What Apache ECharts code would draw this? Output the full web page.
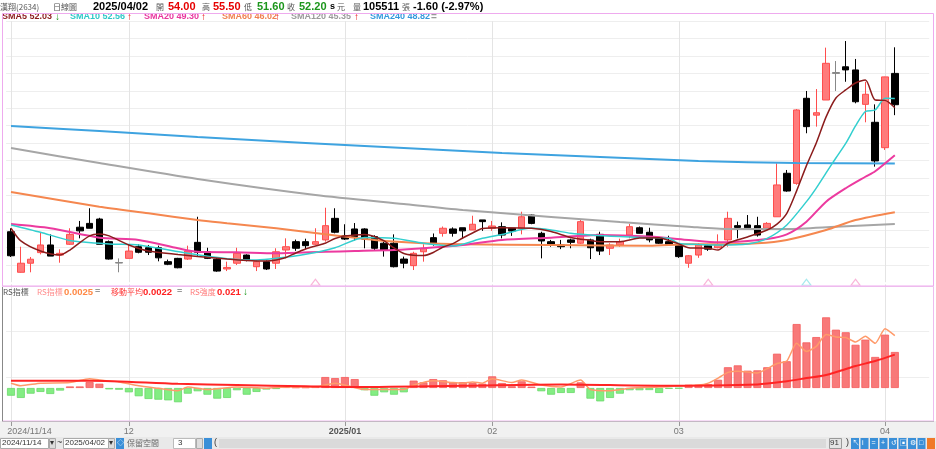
<!DOCTYPE html>
<html><head><meta charset="utf-8">
<script src="https://cdn.jsdelivr.net/npm/echarts@6/dist/echarts.min.js"></script>
<style>html,body{margin:0;padding:0;background:#fff;}#c{width:936px;height:449px;}</style>
</head><body><div id="c"></div>
<script>
// ---------- data ----------
const dates = [
 '2024/11/14','2024/11/15','2024/11/18','2024/11/19','2024/11/20','2024/11/21','2024/11/22','2024/11/25','2024/11/26','2024/11/27','2024/11/28','2024/11/29',
 '2024/12/02','2024/12/03','2024/12/04','2024/12/05','2024/12/06','2024/12/09','2024/12/10','2024/12/11','2024/12/12','2024/12/13','2024/12/16','2024/12/17','2024/12/18','2024/12/19','2024/12/20','2024/12/23','2024/12/24','2024/12/25','2024/12/26','2024/12/27','2024/12/30','2024/12/31',
 '2025/01/02','2025/01/03','2025/01/06','2025/01/07','2025/01/08','2025/01/09','2025/01/10','2025/01/13','2025/01/14','2025/01/15','2025/01/16','2025/01/17','2025/01/20','2025/01/21','2025/01/22',
 '2025/02/03','2025/02/04','2025/02/05','2025/02/06','2025/02/07','2025/02/10','2025/02/11','2025/02/12','2025/02/13','2025/02/14','2025/02/17','2025/02/18','2025/02/19','2025/02/20','2025/02/21','2025/02/24','2025/02/25','2025/02/26','2025/02/27',
 '2025/03/03','2025/03/04','2025/03/05','2025/03/06','2025/03/07','2025/03/10','2025/03/11','2025/03/12','2025/03/13','2025/03/14','2025/03/17','2025/03/18','2025/03/19','2025/03/20','2025/03/21','2025/03/24','2025/03/25','2025/03/26','2025/03/27','2025/03/28','2025/03/31',
 '2025/04/01','2025/04/02'];
const padCats = [' ', '  ', '   '];
const tickIdx = [0, 12, 34, 49, 68, 89];
const tickText = ['2024/11/14', '12', '2025/01', '02', '03', '04'];

// [open, close, low, high]
const candles = [
 [44.90,43.52,43.45,45.10],[42.57,43.09,42.55,44.04],[43.09,43.32,42.57,43.45],[43.70,44.14,43.60,44.87],[44.14,43.50,43.50,44.75],
 [43.56,43.66,43.12,43.89],[44.18,44.75,44.14,45.10],[45.16,44.95,44.52,45.52],[45.38,45.10,45.10,46.25],[45.63,44.18,44.18,45.70],
 [44.33,43.33,43.30,44.40],[43.13,43.10,42.57,43.37],[43.37,43.79,43.37,44.14],[44.04,43.72,43.66,44.18],[43.98,43.72,43.56,44.14],
 [43.98,43.40,43.20,44.10],[43.18,43.03,42.98,43.30],[43.37,42.83,42.80,43.40],[43.33,43.79,43.28,44.10],[44.29,43.72,43.47,45.76],
 [43.75,43.37,43.33,43.98],[43.32,42.64,42.60,43.40],[42.76,42.85,42.64,43.18],[43.09,43.66,42.99,43.98],[43.56,43.27,43.20,43.60],
 [42.89,43.18,42.64,43.28],[43.18,42.76,42.70,43.25],[43.09,43.75,42.76,43.95],[43.85,44.04,43.37,44.52],[44.33,43.95,43.80,44.45],
 [44.33,44.10,43.90,44.50],[44.18,44.33,44.14,45.10],[44.43,45.25,44.33,46.28],[45.67,44.87,44.81,46.25],[44.67,44.48,44.43,45.33],
 [45.06,44.62,44.40,45.40],[45.06,44.48,43.95,45.10],[44.62,43.95,43.80,44.70],[44.24,43.85,43.47,44.33],[44.24,42.89,42.85,44.75],
 [43.33,43.09,42.80,43.47],[42.95,43.66,42.70,43.75],[43.75,43.95,43.18,44.18],[44.56,44.24,44.10,44.80],[44.81,45.10,44.62,45.20],
 [45.06,44.81,44.62,45.15],[45.13,44.95,44.52,45.13],[45.00,45.33,45.00,45.82],[45.58,45.48,44.95,45.58],[45.10,45.23,44.95,45.52],
 [45.19,44.71,44.52,45.44],[45.10,44.94,44.66,45.10],[45.10,45.76,44.75,46.05],[45.86,45.38,45.33,45.90],[44.81,44.37,43.37,44.90],
 [44.33,44.18,44.04,44.43],[44.14,44.04,43.90,44.43],[44.43,44.29,43.95,44.50],[44.24,45.48,44.20,45.60],[44.43,43.98,43.33,44.50],
 [44.75,43.79,43.56,44.90],[43.95,44.14,43.56,44.24],[44.14,44.33,44.04,44.50],[44.71,45.19,44.52,45.35],[45.13,44.81,44.80,45.20],
 [44.87,44.43,44.29,45.13],[44.52,44.24,44.20,44.60],[44.33,44.18,44.18,44.67],[44.10,43.47,43.40,44.20],[43.09,43.52,42.83,43.56],
 [43.56,44.14,43.40,44.24],[44.10,43.90,43.80,44.20],[43.98,44.14,43.95,44.75],[44.43,45.67,44.04,46.05],[45.25,45.15,44.52,45.48],
 [45.29,45.13,45.10,45.86],[45.25,44.71,44.62,45.76],[45.10,45.38,44.98,45.45],[45.76,47.59,45.76,48.83],[48.26,47.24,47.20,48.45],
 [47.68,51.90,47.60,51.95],[52.57,50.94,50.56,52.99],[51.60,51.74,50.94,53.10],[52.47,54.58,52.47,55.48],[54.05,54.00,52.99,54.71],
 [54.38,54.20,53.52,55.86],[54.20,52.37,52.28,54.83],[52.22,52.80,51.19,53.52],[51.19,48.97,48.64,52.22],[49.73,53.80,49.60,53.81],
 [54.00,52.20,51.60,55.50]];
const volume = 105511;

// moving averages: [day index, value]
const sma5 = [[0,45.10],[1,44.37],[3,43.79],[5,43.56],[6,43.85],[8,44.66],[9,44.77],[10,44.66],[12,44.14],[14,43.79],[17,43.59],[19,43.48],[22,43.33],[24,43.25],[26,43.22],[27,43.28],[28,43.42],[29,43.68],[30,43.91],[31,44.08],[32,44.24],[33,44.51],[34,44.66],[35,44.71],[36,44.74],[37,44.63],[38,44.37],[39,43.97],[40,43.65],[41,43.55],[42,43.53],[43,43.71],[44,44.02],[45,44.22],[46,44.54],[47,44.83],[48,45.09],[50,45.13],[53,45.10],[55,44.91],[57,44.57],[59,44.40],[60,44.33],[62,44.33],[64,44.54],[66,44.56],[67,44.40],[68,44.20],[69,43.98],[71,43.95],[72,43.85],[73,44.24],[75,44.60],[77,45.00],[78,45.34],[79,45.96],[80,47.25],[81,48.70],[82,50.00],[83,51.50],[84,52.59],[85,53.05],[86,53.45],[87,53.62],[88,52.47],[89,52.45],[90,52.03]];
const sma10 = [[0,45.29],[3,44.87],[6,44.40],[10,44.20],[13,44.14],[18,43.66],[22,43.35],[25,43.28],[27,43.37],[30,43.60],[33,43.98],[36,44.57],[39,44.52],[42,44.24],[45,44.08],[48,44.52],[50,44.74],[53,45.11],[55,45.00],[57,44.81],[59,44.71],[62,44.62],[65,44.56],[67,44.52],[68,44.22],[70,44.17],[72,44.14],[75,44.20],[77,44.52],[79,45.29],[81,46.63],[82,47.41],[83,48.28],[84,49.14],[85,49.98],[86,50.98],[87,51.81],[88,51.90],[89,52.57],[90,52.56]];
const sma20 = [[0,45.34],[4,45.10],[9,44.56],[13,44.43],[17,43.95],[19,43.75],[23,43.72],[27,43.66],[32,43.75],[35,43.79],[39,43.85],[42,43.95],[46,44.14],[50,44.43],[55,44.56],[60,44.71],[65,44.62],[69,44.43],[72,44.29],[74,44.33],[77,44.48],[79,44.75],[81,45.48],[83,46.63],[85,47.40],[87,48.06],[88,48.38],[90,49.30]];
const sma60 = [[0,47.18],[9,46.34],[14,45.96],[19,45.57],[22,45.39],[27,45.10],[32,44.75],[37,44.43],[42,44.24],[46,44.18],[55,44.14],[65,44.10],[69,44.18],[72,44.18],[76,44.24],[79,44.43],[83,45.00],[86,45.57],[90,46.02]];
const sma120 = [[0,49.71],[9,48.85],[19,47.93],[31,47.01],[40,46.49],[46,46.15],[55,45.75],[62,45.46],[69,45.19],[73,45.06],[79,45.06],[84,45.19],[90,45.35]];
const sma240 = [[0,50.98],[9,50.69],[19,50.34],[30,50.00],[40,49.71],[50,49.43],[60,49.20],[70,48.97],[80,48.85],[90,48.82]];

// signal markers (day indices)
const signalPink = [31, 71, 86];
const signalCyan = [81];

// RS panel
const rsStrength = [
 -0.0045,-0.0058,-0.0033,-0.0023,-0.0035,-0.0015,0.0009,0.0009,0.0035,0.0025,
 -0.0008,-0.0010,-0.0025,-0.0048,-0.0064,-0.0068,-0.0072,-0.0083,-0.0033,-0.0019,
 -0.0039,-0.0062,-0.0058,-0.0013,-0.0039,-0.0023,-0.0009,-0.0006,0.0006,0.0004,
 0.0004,0.0012,0.0064,0.0058,0.0064,0.0052,-0.0013,-0.0045,-0.0025,-0.0039,
 -0.0025,0.0043,0.0033,0.0052,0.0045,0.0033,0.0034,0.0029,0.0025,0.0068,
 0.0029,0.0010,0.0039,0.0008,-0.0019,-0.0039,-0.0029,-0.0029,0.0033,-0.0062,
 -0.0078,-0.0058,-0.0033,-0.0013,-0.0013,-0.0012,-0.0029,-0.0004,-0.0003,0.0019,
 0.0019,0.0023,0.0048,0.0121,0.0132,0.0101,0.0103,0.0121,0.0200,0.0156,
 0.0373,0.0266,0.0297,0.0412,0.0340,0.0325,0.0252,0.0282,0.0181,0.0311,
 0.0210];
const rsIndex = [[0,0.00175],[1,0.00171],[3,0.00175],[6,0.00176],[8,0.00182],[9,0.00180],[11,0.00177],[13,0.00171],[15,0.00167],[17,0.00163],[18,0.00169],[20,0.00165],[23,0.00169],[26,0.00167],[28,0.00169],[31,0.00169],[33,0.00175],[36,0.00165],[40,0.00165],[41,0.00172],[43,0.00179],[45,0.00176],[46,0.00175],[47,0.00177],[48,0.00175],[49,0.00182],[51,0.00176],[52,0.00180],[54,0.00172],[56,0.00169],[58,0.00180],[59,0.00165],[61,0.00163],[63,0.00167],[66,0.00169],[70,0.00172],[71,0.00175],[72,0.00183],[73,0.00192],[74,0.00194],[76,0.00191],[77,0.00198],[78,0.00206],[79,0.00210],[80,0.00238],[81,0.00225],[82,0.00233],[83,0.00252],[84,0.00248],[85,0.00247],[86,0.00240],[87,0.00249],[88,0.00238],[89,0.00261],[90,0.00250]];
const rsMA = [[0,0.00179],[8,0.00179],[17,0.00174],[23,0.00172],[30,0.00170],[34,0.00169],[46,0.00171],[56,0.00173],[66,0.00171],[76,0.00173],[79,0.00178],[81,0.00183],[83,0.00188],[86,0.00202],[88,0.00210],[90,0.00220]];

// ---------- chart ----------
const cats = dates.concat(padCats);
const last = candles[candles.length - 1];
const prevClose = candles[candles.length - 2][1];
const chg = last[1] - prevClose;
const lastV = a => a[a.length - 1][1];

const LAT = "'Liberation Sans','Noto Sans CJK TC',sans-serif";
const CJK = "'Noto Sans CJK TC','Liberation Sans',sans-serif";
const RED = '#e60000', GREEN = '#1c961c';

function txt(x, y, s, fill, font, z) {
  return {type: 'text', x: x, y: y, silent: true, z: z || 50,
          style: {text: s, fill: fill, font: font, textVerticalAlign: 'middle'}};
}
function box(x, y, w, h, fill, stroke, z) {
  return {type: 'rect', silent: true, z: z || 40, shape: {x: x, y: y, width: w, height: h},
          style: {fill: fill, stroke: stroke || null, lineWidth: 1}};
}
function seg(x1, y1, x2, y2, color, z) {
  return {type: 'line', silent: true, z: z || 60, shape: {x1: x1, y1: y1, x2: x2, y2: y2},
          style: {stroke: color, lineWidth: 1}};
}

const g = [];
// backgrounds
g.push(box(0, 421, 936, 28, '#f1f1f1', null, -10));
g.push(box(0, 437, 936, 12, '#e9e9e9', null, -9));
// frames
g.push({type: 'rect', silent: true, z: 60, shape: {x: 2.5, y: 13.5, width: 931, height: 272.5},
        style: {fill: null, stroke: '#eeaaee', lineWidth: 1}});
g.push({type: 'rect', silent: true, z: 60, shape: {x: 2.5, y: 286.5, width: 931, height: 134.5},
        style: {fill: null, stroke: '#eebbee', lineWidth: 1}});
g.push(seg(2.5, 287, 2.5, 421, '#888888', 61));
g.push(seg(2, 421.5, 934, 421.5, '#c4b8c4', 61));

// header
const C8 = '8px ' + CJK;
const hdr = [
  [0, '漢翔(2634)', '#555', C8],
  [53, '日線圖', '#555', C8],
  [93, '2025/04/02', '#000', 'bold 11px ' + LAT],
  [156, '開', '#555', C8],
  [168, last[0].toFixed(2), RED, 'bold 11px ' + LAT],
  [202, '高', '#555', C8],
  [213, last[3].toFixed(2), RED, 'bold 11px ' + LAT],
  [244, '低', '#555', C8],
  [257, last[2].toFixed(2), GREEN, 'bold 11px ' + LAT],
  [287, '收', '#555', C8],
  [299, last[1].toFixed(2), GREEN, 'bold 11px ' + LAT],
  [330, 's', '#000', 'bold 9px ' + LAT],
  [337, '元', '#555', C8],
  [353, '量', '#555', C8],
  [363, String(volume), '#000', 'bold 11px ' + LAT],
  [402, '張', '#555', C8],
  [413, chg.toFixed(2) + ' (' + (chg / prevClose * 100).toFixed(2) + '%)', '#000', 'bold 11px ' + LAT]
];
hdr.forEach(h => g.push(txt(h[0], 6.5, h[1], h[2], h[3])));

// SMA legend
const legF = 'bold 9px ' + LAT;
const leg = [
  [2, 'SMA5 ' + lastV(sma5).toFixed(2), '#8b1a1a', 55, '↓', GREEN],
  [70, 'SMA10 ' + lastV(sma10).toFixed(2), '#2ec8c8', 127, '↑', RED],
  [144, 'SMA20 ' + lastV(sma20).toFixed(2), '#e8359e', 201, '↑', RED],
  [222, 'SMA60 ' + lastV(sma60).toFixed(2), '#f08050', 275, '↑', RED],
  [291, 'SMA120 ' + lastV(sma120).toFixed(2), '#9a9a9a', 354, '↑', RED],
  [370, 'SMA240 ' + lastV(sma240).toFixed(2), '#3399dd', 431, '=', '#999']
];
leg.forEach(l => { g.push(txt(l[0], 17, l[1], l[2], legF)); g.push(txt(l[3], 17, l[4], l[5], 'bold 10px ' + LAT)); });

// RS legend
const rl = 292;
g.push(txt(3, rl, 'RS指標', '#555', C8));
g.push(txt(37, rl, 'RS指標', '#ff8c8c', C8));
g.push(txt(64, rl, lastV(rsIndex).toFixed(4), '#ff8844', 'bold 9.5px ' + LAT));
g.push(txt(95, rl, '=', '#999', 'bold 9px ' + LAT));
g.push(txt(111, rl, '移動平均', '#ff3b3b', C8));
g.push(txt(143, rl, lastV(rsMA).toFixed(4), '#ff2020', 'bold 9.5px ' + LAT));
g.push(txt(177, rl, '=', '#999', 'bold 9px ' + LAT));
g.push(txt(190, rl, 'RS強度', '#ff7a7a', C8));
g.push(txt(217, rl, rsStrength[rsStrength.length - 1].toFixed(3), '#ff2020', 'bold 9.5px ' + LAT));
g.push(txt(243, rl, '↓', GREEN, 'bold 10px ' + LAT));

// bottom toolbar
const ty = 443;
g.push(box(0.5, 438.5, 48, 10, '#fff', '#aaa'));
g.push(txt(2, ty, dates[0], '#333', '8px ' + LAT));
g.push(box(49.5, 438.5, 6, 10, '#ddd', '#aaa'));
g.push(txt(50, ty, '▾', '#333', '8px ' + LAT));
g.push(txt(57, ty, '~', '#333', '9px ' + LAT));
g.push(box(63.5, 438.5, 45, 10, '#fff', '#aaa'));
g.push(txt(65, ty, dates[dates.length - 1], '#333', '8px ' + LAT));
g.push(box(108.5, 438.5, 6, 10, '#ddd', '#aaa'));
g.push(txt(109, ty, '▾', '#333', '8px ' + LAT));
g.push(box(116, 438, 8, 11, '#3a8fd8', null));
g.push(txt(117, ty, '◇', '#fff', '7px ' + LAT));
g.push(txt(127, ty, '保留空間', '#666', C8));
g.push(box(173.5, 438.5, 22, 10, '#fff', '#bbb'));
g.push(txt(178, ty, '3', '#333', '8px ' + LAT));
g.push(box(196.5, 438.5, 6, 10, '#ddd', '#aaa'));
g.push(box(204, 438, 8, 11, '#3a8fd8', null));
g.push(txt(214, ty, '(', '#333', '9px ' + LAT));
g.push(box(219, 439, 607, 9, '#dadada', null));
g.push(box(829.5, 438.5, 12, 10, '#e4e4e4', '#999'));
g.push(txt(830, ty, String(dates.length), '#333', '8px ' + LAT));
g.push(txt(846, ty, ')', '#333', '9px ' + LAT));
const icons = ['↖', 'i', '=', '+', '↺', '▣', '⚙', '□'];
icons.forEach((s, k) => {
  g.push(box(851 + k * 9.5, 438, 8, 11, '#3a8fd8', null));
  g.push(txt(852.5 + k * 9.5, ty, s, '#fff', '7px ' + LAT));
});
g.push(box(927, 438, 8, 11, '#f07a28', null));

const catAxisBase = {type: 'category', data: cats, boundaryGap: true};
const showTick = (i) => tickIdx.indexOf(i) >= 0;

const vLines = {
  silent: true, symbol: ['none', 'none'], label: {show: false}, z: 0, animation: false,
  lineStyle: {color: '#e4e4e4', width: 1, type: 'solid'},
  emphasis: {disabled: true},
  data: tickIdx.map(i => ({xAxis: i}))
};

function smaSeries(name, data, color, width) {
  return {name: name, type: 'line', data: data, xAxisIndex: 0, yAxisIndex: 0, symbol: 'none',
          smooth: 0.25, z: 4, lineStyle: {color: color, width: width}, silent: true, animation: false};
}

// candles whose open and close are (nearly) equal are drawn as grey crosses
const candleData = candles.map(c => Math.abs(c[0] - c[1]) < 0.06
  ? {value: c, itemStyle: {color: '#888', color0: '#888', borderColor: '#888', borderColor0: '#888'}}
  : c);

const option = {
  animation: false,
  backgroundColor: '#ffffff',
  grid: [
    {left: 6.1, width: 923.1, top: 21.2, height: 261},
    {left: 6.1, width: 923.1, top: 284.3, height: 140.1}
  ],
  xAxis: [
    Object.assign({}, catAxisBase, {gridIndex: 0, show: false}),
    Object.assign({}, catAxisBase, {
      gridIndex: 1, offset: -3.4,
      axisLine: {show: true, lineStyle: {color: '#bbbbbb'}},
      axisTick: {show: true, alignWithLabel: true, interval: showTick, length: 5, lineStyle: {color: '#999'}},
      splitLine: {show: false},
      axisLabel: {
        interval: showTick, margin: 6, color: '#777', fontSize: 9, fontFamily: 'Liberation Sans',
        formatter: (v, i) => {
          const k = tickIdx.indexOf(i);
          if (k < 0) return '';
          if (k === 0) return '{first|' + tickText[k] + '}';
          if (tickText[k].length > 2) return '{yr|' + tickText[k] + '}';
          return tickText[k];
        },
        rich: {
          first: {padding: [0, 0, 0, 37], color: '#777', fontSize: 9, fontFamily: 'Liberation Sans'},
          yr: {color: '#555', fontSize: 9, fontWeight: 'bold', fontFamily: 'Liberation Sans'}
        }
      }
    })
  ],
  yAxis: [
    {type: 'value', gridIndex: 0, min: 42, max: 57, interval: 1,
     axisLabel: {show: false}, axisLine: {show: false}, axisTick: {show: false},
     splitLine: {show: true, showMinLine: false, lineStyle: {color: '#eeeeee'}}},
    {type: 'value', gridIndex: 1, min: 0, max: 3, interval: 1,
     axisLabel: {show: false}, axisLine: {show: false}, axisTick: {show: false},
     splitLine: {show: true, showMinLine: false, showMaxLine: false, lineStyle: {color: '#eeeeee'}}},
    {type: 'value', gridIndex: 1, min: -0.02122, max: 0.06046, show: false},
    {type: 'value', gridIndex: 1, min: 0.001099, max: 0.003311, show: false}
  ],
  graphic: {elements: g},
  series: [
    {type: 'scatter', xAxisIndex: 0, yAxisIndex: 0, z: 1, silent: true,
     symbol: 'triangle', symbolSize: [9, 6],
     itemStyle: {color: 'rgba(255,255,255,0)', borderColor: '#f7a3cf', borderWidth: 1},
     data: signalPink.map(i => [i, 42]), markLine: vLines},
    {type: 'scatter', xAxisIndex: 0, yAxisIndex: 0, z: 1, silent: true,
     symbol: 'triangle', symbolSize: [9, 6],
     itemStyle: {color: 'rgba(255,255,255,0)', borderColor: '#8fe3e8', borderWidth: 1},
     data: signalCyan.map(i => [i, 42])},
    {type: 'candlestick', xAxisIndex: 0, yAxisIndex: 0, z: 2, barWidth: 7, silent: true,
     itemStyle: {color: '#ff7b7b', color0: '#000000', borderColor: '#ff4d4d', borderColor0: '#000000', borderWidth: 1},
     data: candleData},
    smaSeries('SMA240', sma240, '#3ea3e0', 2),
    smaSeries('SMA120', sma120, '#a6a6a6', 2),
    smaSeries('SMA60', sma60, '#f5874f', 2),
    smaSeries('SMA20', sma20, '#ec3a9f', 2),
    smaSeries('SMA10', sma10, '#33cfcf', 1.5),
    smaSeries('SMA5', sma5, '#8b1c1c', 1.5),
    {type: 'line', xAxisIndex: 1, yAxisIndex: 1, data: [], z: 0, silent: true, markLine: vLines},
    {type: 'bar', xAxisIndex: 1, yAxisIndex: 2, z: 2, barWidth: 8, silent: true,
     data: rsStrength.map(v => ({value: v, itemStyle: v >= 0
        ? {color: 'rgba(247,110,110,0.92)', borderColor: '#f55a5a', borderWidth: 0.8}
        : {color: 'rgba(120,236,120,0.92)', borderColor: '#6ad86a', borderWidth: 0.8}}))},
    {type: 'line', xAxisIndex: 1, yAxisIndex: 3, z: 3, symbol: 'none', silent: true, smooth: 0.2,
     lineStyle: {color: '#ff9a6a', width: 1.5}, data: rsIndex},
    {type: 'line', xAxisIndex: 1, yAxisIndex: 3, z: 4, symbol: 'none', silent: true, smooth: 0.3,
     lineStyle: {color: '#ff2424', width: 2}, data: rsMA}
  ]
};

const chart = echarts.init(document.getElementById('c'), null, {renderer: 'canvas'});
chart.setOption(option);
</script>
</body></html>
